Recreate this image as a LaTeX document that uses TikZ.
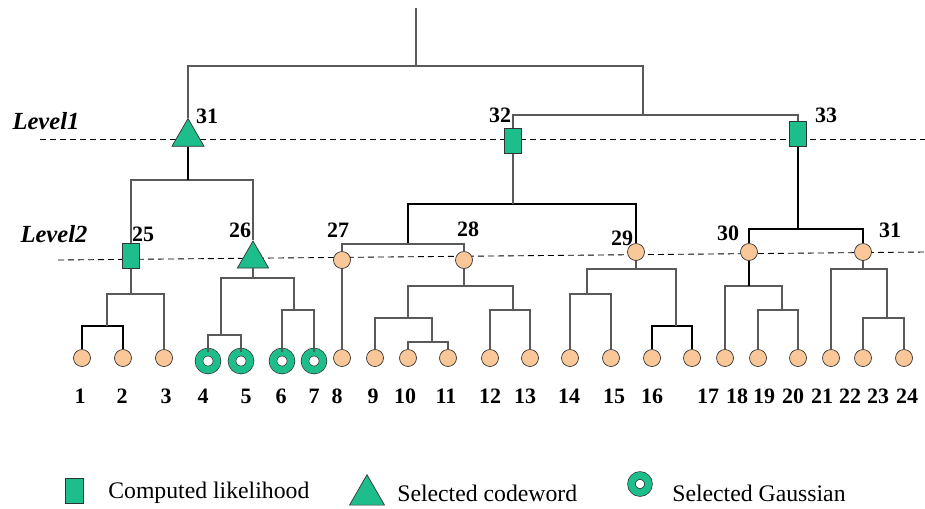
\documentclass[tikz,border=0pt]{standalone}
\usepackage{fontspec}
\setmainfont{Liberation Serif}
\usetikzlibrary{shapes,arrows.meta,positioning}
\definecolor{codegreen}{RGB}{30,190,140}
\definecolor{peach}{RGB}{250,200,152}
\tikzset{
    branch/.style={draw=black!65, line width=0.6pt},
    heavy/.style={draw=black, line width=1.1pt},
    level/.style={dashed, dash pattern=on 1.2mm off 0.8mm, line width=0.5pt},
    leaf/.style={circle, draw=black!80, fill=peach, minimum size=3.4mm, inner sep=0pt},
    lik/.style={rectangle, draw=black!80, fill=codegreen, minimum width=3.4mm, minimum height=5mm, inner sep=0pt},
    code/.style={regular polygon, regular polygon sides=3, draw=black!80, fill=codegreen, minimum size=7.4mm, inner sep=0pt},
    gauss/.style={circle, draw=black!80, double=codegreen, double distance=1.4mm, fill=white, minimum size=3.6mm, inner sep=0pt},
    num/.style={font=\fontsize{12.5}{14}\selectfont\bfseries, inner sep=0pt},
    lvl/.style={font=\fontsize{14}{16}\selectfont\bfseries\itshape, inner sep=0pt},
    key/.style={font=\fontsize{13.5}{16}\selectfont, anchor=west, inner sep=0pt}
}

\begin{document}
\begin{tikzpicture}[x=0.2mm, y=-0.2mm]
    \useasboundingbox (0,0) rectangle (925,508);

    % level lines
    \coordinate (lv1a) at (40,139);
    \coordinate (lv1b) at (925,139);
    \coordinate (lv2a) at (58,260);
    \coordinate (lv2b) at (925,252);
    \draw[level] (lv1a) -- (lv1b);
    \draw[level] (lv2a) -- (lv2b);
    \node[lvl] (lev1) at (46,121) {Level1};
    \node[lvl] (lev2) at (54,234) {Level2};

    % clusters
    \node[code] (c31) at (188,137) {};
    \node[lik] (c32) at (513,141) {};
    \node[lik] (c33) at (798,134) {};
    \node[lik] (c25) at (131,256) {};
    \node[code, minimum size=7.2mm] (c26) at (253,259) {};
    \node[leaf] (c27) at (342,260) {};
    \node[leaf] (c28) at (464,260) {};
    \node[leaf] (c29) at (636,252) {};
    \node[leaf] (c30) at (749,252) {};
    \node[leaf] (c31b) at (863,252) {};

    \node[num] (lb31) at (207,116) {31};
    \node[num] (lb32) at (500,115) {32};
    \node[num] (lb33) at (826,115) {33};
    \node[num] (lb25) at (143,234) {25};
    \node[num] (lb26) at (240,230) {26};
    \node[num] (lb27) at (338,230) {27};
    \node[num] (lb28) at (468,229) {28};
    \node[num] (lb29) at (622,238) {29};
    \node[num] (lb30) at (728,233) {30};
    \node[num] (lb31b) at (890,230) {31};

    % leaves
    \foreach \i/\x in {1/82,2/123,3/164,8/342,9/375,10/408,11/448,12/490,13/530,14/570,
                       15/611,16/652,17/692,18/725,19/758,20/798,21/831,22/863,23/904}
        \node[leaf] (l\i) at (\x,358) {};
    \foreach \i/\x in {4/208,5/241,6/282,7/314}
        \node[gauss] (l\i) at (\x,361) {};
    \foreach \i/\x in {1/80,2/122,3/166,4/203,5/246,6/281,7/314,8/337,9/373,10/405,11/446,12/490,
                       13/525,14/569,15/614,16/652,17/708,18/737,19/764,20/793,21/822,22/850,23/878,24/907}
        \node[num] (t\i) at (\x,396) {\i};

    % top of tree
    \coordinate (root) at (416,8);
    \coordinate (jr) at (416,66);
    \coordinate (j3233) at (643,115);
    \draw[branch] (root) -- (jr);
    \draw[branch] (c31) |- (jr) -| (j3233);
    \draw[branch] (c32) |- (j3233) -| (c33);

    % level 1 to level 2
    \coordinate (j2526) at (188,180);
    \draw[branch] (c25) |- (j2526) -| (c26);
    \draw[heavy] (j2526) -- (c31);
    \coordinate (j2729) at (513,204);
    \coordinate (j2728) at (408,244);
    \draw[heavy] (j2728) |- (j2729) -| (c29);
    \draw[branch] (j2729) -- (c32);
    \draw[branch] (c27) |- (j2728) -| (c28);
    \coordinate (j3031) at (798,229);
    \draw[heavy] (c30) |- (j3031) -| (c31b);
    \draw[heavy] (j3031) -- (c33);

    % level 2 to leaves
    \coordinate (j12) at (107,326);
    \coordinate (j123) at (131,294);
    \draw[heavy] (l1) |- (j12) -| (l2);
    \draw[branch] (j12) |- (j123) -| (l3);
    \draw[branch] (j123) -- (c25);
    \coordinate (j45) at (221,335);
    \coordinate (j67) at (294,310);
    \coordinate (j4567) at (253,278);
    \draw[branch] (l4) |- (j45) -| (l5);
    \draw[branch] (l6) |- (j67) -| (l7);
    \draw[branch] (j45) |- (j4567) -| (j67);
    \draw[branch] (j4567) -- (c26);
    \draw[branch] (c27) -- (l8);
    \coordinate (j1011) at (432,342);
    \coordinate (j911) at (408,318);
    \coordinate (j1213) at (513,310);
    \coordinate (j913) at (464,286);
    \draw[branch] (l10) |- (j1011) -| (l11);
    \draw[branch] (l9) |- (j911) -| (j1011);
    \draw[branch] (l12) |- (j1213) -| (l13);
    \draw[branch] (j911) |- (j913) -| (j1213);
    \draw[branch] (j913) -- (c28);
    \coordinate (j1415) at (587,294);
    \coordinate (j1617) at (676,326);
    \coordinate (j1417) at (636,269);
    \draw[branch] (l14) |- (j1415) -| (l15);
    \draw[heavy] (l16) |- (j1617) -| (l17);
    \draw[branch] (j1415) |- (j1417) -| (j1617);
    \draw[branch] (j1417) -- (c29);
    \coordinate (j1920) at (782,310);
    \coordinate (j1820) at (749,286);
    \draw[branch] (l19) |- (j1920) -| (l20);
    \draw[branch] (l18) |- (j1820) -| (j1920);
    \draw[heavy] (j1820) -- (c30);
    \coordinate (j2223) at (887,318);
    \coordinate (j2123) at (863,269);
    \draw[branch] (l22) |- (j2223) -| (l23);
    \draw[branch] (l21) |- (j2123) -| (j2223);
    \draw[branch] (j2123) -- (c31b);

    % legend
    \node[lik, minimum width=3.6mm] (k1) at (74,491) {};
    \node[key] (k1t) at (108,493) {Computed likelihood};
    \node[code, minimum size=8.1mm] (k2) at (367,495) {};
    \node[key] (k2t) at (397,493) {Selected codeword};
    \node[gauss, minimum size=3.4mm] (k3) at (640,484) {};
    \node[key] (k3t) at (672,493) {Selected Gaussian};
\end{tikzpicture}
\end{document}
